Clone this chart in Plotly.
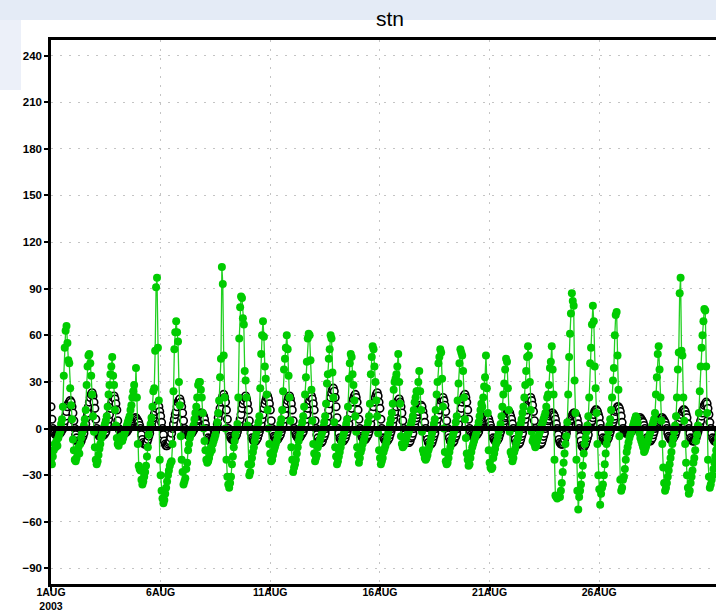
import plotly.graph_objects as go
import pandas as pd

# ---------------- data (hourly values, one list per day, from 1 AUG 2003 00Z) ----------------
black_days = [
    [14, 6, 0, -2, -3, -4, -4, -4, -4, -3, -3, -2, -1, 0, 3, 5, 8, 11, 14, 16, 17, 18, 17, 14],
    [10, 5, 0, -4, -6, -8, -9, -9, -9, -8, -6, -5, -3, 0, 3, 7, 10, 14, 17, 20, 22, 23, 21, 17],
    [13, 6, 0, -2, -4, -5, -5, -5, -5, -4, -4, -3, -2, 0, 3, 6, 9, 13, 16, 18, 20, 21, 19, 16],
    [12, 5, 0, -1, -2, -3, -3, -3, -3, -3, -2, -2, -1, 0, 1, 2, 3, 4, 5, 6, 7, 7, 6, 5],
    [4, 2, 0, -4, -7, -9, -10, -10, -10, -9, -7, -5, -3, 0, 2, 5, 7, 9, 11, 13, 15, 15, 14, 11],
    [8, 4, 0, -4, -8, -10, -11, -11, -10, -9, -8, -6, -3, 0, 3, 6, 9, 11, 14, 17, 18, 19, 17, 14],
    [10, 5, 0, -2, -3, -4, -4, -4, -4, -3, -3, -2, -1, 0, 2, 3, 5, 6, 8, 9, 10, 10, 9, 8],
    [6, 3, 0, -3, -6, -7, -8, -8, -8, -7, -6, -4, -2, 0, 3, 7, 10, 13, 17, 19, 21, 22, 20, 17],
    [12, 6, 0, -3, -5, -6, -7, -7, -7, -6, -5, -4, -2, 0, 3, 6, 9, 13, 16, 18, 20, 21, 19, 16],
    [12, 5, 0, -3, -6, -7, -8, -8, -8, -7, -6, -4, -2, 0, 3, 6, 9, 13, 16, 18, 20, 21, 19, 16],
    [12, 5, 0, -3, -5, -6, -7, -7, -7, -6, -5, -4, -2, 0, 3, 6, 9, 13, 16, 18, 20, 21, 19, 16],
    [12, 5, 0, -2, -4, -5, -6, -6, -6, -5, -4, -3, -2, 0, 3, 6, 9, 13, 16, 18, 20, 21, 19, 16],
    [12, 5, 0, -4, -6, -8, -9, -9, -9, -8, -6, -5, -3, 0, 4, 8, 12, 16, 20, 23, 25, 26, 24, 20],
    [14, 7, 0, -3, -6, -7, -8, -8, -8, -7, -6, -4, -2, 0, 3, 7, 10, 13, 17, 19, 21, 22, 20, 17],
    [12, 6, 0, -3, -5, -6, -7, -7, -7, -6, -5, -4, -2, 0, 3, 7, 10, 14, 17, 20, 22, 23, 21, 17],
    [13, 6, 0, -3, -6, -7, -8, -8, -8, -7, -6, -4, -2, 0, 3, 6, 9, 11, 14, 17, 18, 19, 17, 14],
    [10, 5, 0, -4, -6, -8, -9, -9, -9, -8, -6, -5, -3, 0, 2, 5, 7, 9, 11, 13, 15, 15, 14, 11],
    [8, 4, 0, -4, -7, -9, -10, -10, -10, -9, -7, -5, -3, 0, 3, 6, 9, 12, 15, 18, 19, 20, 18, 15],
    [11, 5, 0, -4, -6, -8, -9, -9, -9, -8, -6, -5, -3, 0, 3, 7, 10, 13, 17, 19, 21, 22, 20, 17],
    [12, 6, 0, -2, -4, -5, -5, -5, -5, -4, -4, -3, -2, 0, 1, 2, 4, 5, 6, 7, 8, 8, 7, 6],
    [4, 2, 0, -3, -6, -7, -8, -8, -8, -7, -6, -4, -2, 0, 2, 3, 5, 7, 8, 10, 11, 11, 10, 8],
    [6, 3, 0, -4, -7, -9, -10, -10, -10, -9, -7, -5, -3, 0, 3, 6, 9, 12, 15, 18, 19, 20, 18, 15],
    [11, 5, 0, -4, -7, -9, -10, -10, -10, -9, -7, -5, -3, 0, 2, 3, 5, 6, 8, 9, 10, 10, 9, 8],
    [6, 3, 0, -4, -7, -9, -10, -10, -10, -9, -7, -5, -3, 0, 2, 3, 5, 6, 8, 9, 10, 10, 9, 8],
    [6, 3, 0, -5, -8, -11, -12, -12, -11, -10, -8, -6, -4, 0, 2, 4, 5, 7, 9, 11, 12, 12, 11, 9],
    [7, 3, 0, -3, -6, -7, -8, -8, -8, -7, -6, -4, -2, 0, 2, 4, 6, 8, 11, 12, 14, 14, 13, 11],
    [8, 4, 0, -1, -2, -3, -3, -3, -3, -3, -2, -2, -1, 0, 1, 2, 3, 4, 5, 6, 7, 7, 6, 5],
    [4, 2, 0, -3, -6, -7, -8, -8, -8, -7, -6, -4, -2, 0, 1, 2, 3, 4, 5, 6, 7, 7, 6, 5],
    [4, 2, 0, -3, -5, -6, -7, -7, -7, -6, -5, -4, -2, 0, 2, 4, 5, 7, 9, 11, 12, 12, 11, 9],
    [7, 3, 0, -3, -6, -7, -8, -8, -8, -7, -6, -4, -2, 0, 3, 5, 8, 10, 13, 15, 16, 17, 16, 13],
    [9, 4, 0, -3, -6, -7, -8, -8, -8, -7, -6, -4, -2, 0],
]

green_days = [
    [-20, -23, -18, -14, -10, -12, -8, -11, -6, -4, -2, 3, 6, 14, 34, 52, 63, 66, 55, 44, 42, 26, 15, 6],
    [-7, -14, -20, -21, -19, -15, -12, -16, -10, -6, -3, -1, 2, 6, 12, 28, 40, 47, 48, 42, 34, 22, 8, -2],
    [-12, -20, -23, -21, -17, -13, -10, -6, -4, -2, 1, 3, 5, 8, 14, 22, 28, 35, 40, 46, 34, 28, 12, 2],
    [-6, -10, -11, -9, -7, -5, -8, -6, -4, -2, 0, 2, 4, 6, 8, 12, 15, 20, 24, 28, 20, 39, 20, -10],
    [-24, -26, -27, -33, -36, -34, -31, -28, -24, -18, -12, -4, 0, 3, 7, 14, 24, 26, 50, 91, 97, 52, 18, -20],
    [-30, -40, -45, -48, -46, -42, -38, -34, -30, -27, -24, -22, -21, -10, 24, 51, 62, 69, 62, 56, 30, 15, -5, -20],
    [-28, -36, -34, -32, -26, -22, -14, -10, -6, -4, -2, 0, 2, 6, 10, 14, 20, 28, 30, 30, 25, 20, 10, 0],
    [-8, -14, -20, -22, -21, -19, -16, -12, -14, -10, -8, -6, -4, 0, 4, 10, 18, 33, 45, 104, 93, 47, 20, 0],
    [-20, -31, -36, -38, -35, -31, -23, -18, -12, -8, -4, -1, 3, 20, 58, 78, 85, 84, 71, 67, 37, 31, 20, 2],
    [-23, -30, -28, -23, -19, -15, -12, -8, -5, -2, 1, 4, 8, 26, 48, 60, 69, 59, 40, 32, 22, 12, 0, -10],
    [-16, -21, -20, -17, -14, -12, -10, -8, -5, -3, 0, 3, 6, 12, 24, 38, 45, 52, 60, 51, 34, 20, 5, -12],
    [-20, -28, -25, -23, -20, -16, -12, -8, -5, -2, 1, 4, 8, 14, 22, 33, 43, 58, 61, 60, 44, 25, 5, -10],
    [-16, -21, -19, -17, -12, -10, -8, -6, -4, -2, 1, 4, 8, 16, 29, 35, 45, 51, 60, 58, 36, 20, 4, -12],
    [-18, -23, -21, -18, -15, -12, -9, -6, -4, -2, 0, 3, 6, 14, 32, 42, 48, 46, 35, 28, 18, 8, -2, -12],
    [-17, -22, -19, -15, -13, -10, -8, -6, -3, -1, 1, 4, 8, 16, 35, 46, 53, 51, 40, 30, 18, 8, -3, -14],
    [-19, -23, -21, -19, -15, -13, -11, -9, -6, -3, 0, 3, 6, 10, 16, 25, 30, 32, 35, 40, 48, 30, 16, -5],
    [-10, -12, -11, -10, -8, -6, -4, -3, -1, 1, 3, 5, 8, 12, 17, 20, 24, 24, 30, 37, 24, 12, -2, -14],
    [-16, -19, -20, -19, -17, -14, -12, -9, -6, -3, 0, 3, 6, 12, 22, 30, 42, 46, 51, 49, 32, 14, 0, -15],
    [-21, -23, -22, -19, -15, -12, -9, -6, -4, -2, 0, 4, 8, 18, 29, 42, 51, 49, 47, 37, 20, 6, -6, -16],
    [-20, -24, -23, -19, -15, -12, -10, -8, -6, -4, -2, 1, 4, 8, 12, 16, 14, 20, 27, 33, 47, 26, 10, -14],
    [-22, -25, -26, -25, -19, -16, -13, -10, -8, -5, -2, 0, 3, 8, 14, 22, 29, 38, 45, 43, 26, 12, -2, -15],
    [-17, -21, -19, -15, -13, -10, -8, -6, -3, 0, 3, 6, 10, 14, 20, 28, 37, 46, 53, 47, 30, 12, -2, -8],
    [-6, -10, -12, -11, -8, -6, -4, -2, 0, 2, 4, 6, 8, 10, 14, 20, 22, 28, 39, 43, 53, 38, 22, -20],
    [-43, -44, -45, -44, -43, -44, -40, -35, -28, -22, -16, -10, -5, 4, 22, 46, 61, 74, 87, 82, 79, 31, 10, -20],
    [-40, -52, -44, -40, -36, -30, -24, -16, -10, -6, -2, 2, 8, 20, 42, 52, 67, 79, 69, 40, 26, 10, -10, -30],
    [-39, -49, -42, -38, -36, -30, -23, -16, -10, -6, -2, 2, 6, 12, 20, 31, 39, 60, 73, 75, 47, 25, -5, -33],
    [-40, -38, -33, -31, -26, -20, -15, -12, -9, -6, -4, -2, 0, 2, 4, 6, 8, 7, 4, 0, -3, -6, -8, -10],
    [-12, -15, -14, -12, -10, -8, -6, -4, -2, 0, 2, 4, 6, 10, 22, 33, 48, 53, 38, 20, 5, -10, -25, -35],
    [-40, -38, -35, -31, -27, -23, -19, -15, -10, -6, -2, 2, 8, 20, 38, 49, 87, 97, 50, 47, 20, 5, -10, -22],
    [-30, -38, -42, -40, -35, -31, -27, -22, -19, -14, -8, -4, 2, 10, 24, 40, 52, 60, 69, 77, 76, 40, 10, -20],
    [-31, -38, -36, -33, -30, -26, -22, -18, -14, -10, -6, -3, 0, 3],
]

start_time = "2003-08-01 00:00"
x_range = ["2003-08-01 00:00", "2003-08-31 07:45"]
tick_dates = ["2003-08-01", "2003-08-06", "2003-08-11", "2003-08-16", "2003-08-21", "2003-08-26"]
tick_text = ["1AUG<br>2003", "6AUG", "11AUG", "16AUG", "21AUG", "26AUG"]
y_ticks = [-90, -60, -30, 0, 30, 60, 90, 120, 150, 180, 210, 240]
y_range = [-100, 250]
title_text = "stn"


def expand(days):
    t0 = pd.Timestamp(start_time)
    xs, ys = [], []
    for d, vals in enumerate(days):
        for h, v in enumerate(vals):
            xs.append(t0 + pd.Timedelta(days=d, hours=h))
            ys.append(v)
    return xs, ys


bx, by = expand(black_days)
gx, gy = expand(green_days)

fig = go.Figure()
fig.add_trace(go.Scatter(
    x=bx, y=by, mode="markers",
    marker=dict(symbol="circle", size=7.5, color="white",
                line=dict(color="black", width=1.6)),
    showlegend=False, cliponaxis=True,
))
fig.add_trace(go.Scatter(
    x=gx, y=gy, mode="lines+markers",
    line=dict(color="#22d022", width=1.3),
    marker=dict(symbol="circle", size=8, color="#00cc00"),
    showlegend=False, cliponaxis=True,
))

# window-chrome strips (light blue) of the original screenshot
fig.add_shape(type="rect", xref="paper", yref="paper",
              x0=-51 / 665, x1=1.0, y0=1 + 20 / 544, y1=1 + 40 / 544,
              fillcolor="#e4ebf6", line_width=0, layer="below")
fig.add_shape(type="rect", xref="paper", yref="paper",
              x0=-51 / 665, x1=-30 / 665, y0=1 - 50 / 544, y1=1 + 20 / 544,
              fillcolor="#ecf0f9", line_width=0, layer="below")

# thick zero reference line
fig.add_shape(type="line", xref="paper", yref="y", x0=0, x1=1, y0=0, y1=0,
              line=dict(color="black", width=5), layer="above")

fig.update_layout(
    width=716, height=612,
    margin=dict(l=51, r=0, t=40, b=28, autoexpand=False),
    paper_bgcolor="white", plot_bgcolor="white",
    title=dict(text=title_text, x=(390 - 51) / 665, xref="paper", xanchor="center",
               y=1 - 19 / 612, yref="container", yanchor="middle",
               font=dict(family="Liberation Sans, Arial", size=21, color="black")),
    xaxis=dict(
        type="date", range=x_range, automargin=False,
        tickmode="array", tickvals=tick_dates, ticktext=tick_text,
        showline=True, linecolor="black", linewidth=2.5, mirror=True,
        ticks="outside", ticklen=4, tickwidth=2, tickcolor="black",
        ticklabelstandoff=-7,
        showgrid=True, gridcolor="#c4c4c4", gridwidth=1, griddash="2px,7px",
        tickfont=dict(family="Liberation Sans Narrow, Liberation Sans, Arial", size=10.5,
                      color="black", weight="bold"),
        zeroline=False,
    ),
    yaxis=dict(
        range=y_range, tickmode="array", tickvals=y_ticks, automargin=False,
        showline=True, linecolor="black", linewidth=2.5, mirror=False,
        ticks="outside", ticklen=4, tickwidth=2, tickcolor="black",
        showgrid=True, gridcolor="#c4c4c4", gridwidth=1, griddash="2px,7px",
        tickfont=dict(family="Liberation Sans, Arial", size=11.5, color="black", weight="bold"),
        zeroline=False,
    ),
)

fig.write_html("out.html")
